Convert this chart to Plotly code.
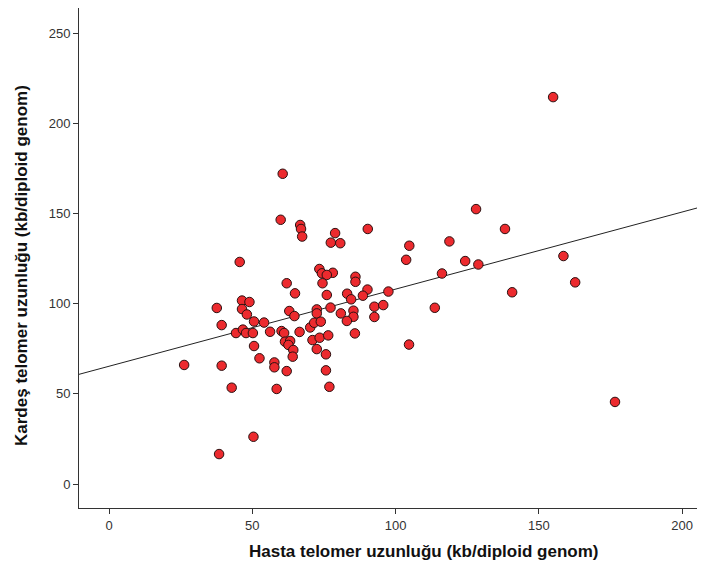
import numpy as np
import plotly.graph_objects as go

# Hasta (patient) telomere length, kb/diploid genome
hasta = [155.0, 158.6, 162.7, 176.6, 128.1, 138.2, 118.8, 104.8, 103.7, 124.3,
         128.9, 116.2, 140.7, 113.7, 104.7, 78.9, 77.4, 80.7, 90.3, 97.5,
         90.2, 88.6, 86.0, 86.0, 78.1, 83.1, 84.5, 77.3, 80.9, 85.3,
         85.3, 83.0, 92.6, 95.7, 92.6, 85.8, 66.7, 67.0, 67.4, 73.4,
         74.3, 76.0, 74.5, 76.0, 72.5, 72.5, 60.6, 59.9, 45.6, 62.0,
         64.9, 37.6, 46.4, 49.0, 46.4, 48.1, 62.9, 64.7, 50.6, 54.1,
         39.3, 44.3, 46.7, 47.8, 50.2, 56.2, 60.2, 61.1, 66.5, 70.2,
         71.6, 73.9, 71.0, 73.5, 76.5, 61.4, 63.2, 62.6, 64.3, 64.1,
         50.6, 72.5, 75.7, 52.5, 57.7, 57.7, 62.0, 75.7, 26.2, 39.3,
         42.8, 58.5, 76.9, 50.4, 38.4]

# Kardes (sibling) telomere length, kb/diploid genome
kardes = [214.5, 126.4, 111.8, 45.5, 152.4, 141.4, 134.5, 132.1, 124.3, 123.6,
          121.7, 116.7, 106.3, 97.7, 77.3, 139.1, 133.8, 133.5, 141.4, 106.7,
          107.8, 104.4, 114.9, 112.1, 117.1, 105.5, 102.4, 97.8, 94.6, 96.1,
          92.7, 90.4, 98.3, 99.2, 92.6, 83.5, 143.6, 141.4, 137.2, 119.2,
          116.8, 115.9, 111.3, 104.8, 96.8, 94.6, 172.0, 146.5, 123.1, 111.3,
          105.7, 97.6, 101.7, 100.9, 97.0, 94.0, 95.9, 93.1, 90.1, 89.5,
          88.1, 83.7, 85.6, 83.7, 83.7, 84.4, 84.8, 83.7, 84.3, 86.8,
          89.4, 90.0, 79.8, 81.1, 82.4, 78.9, 79.3, 77.1, 74.3, 70.6,
          76.5, 74.8, 71.9, 69.7, 67.4, 64.7, 62.6, 63.0, 66.0, 65.6,
          53.4, 52.7, 53.9, 26.2, 16.6]

x_ticks = [0, 50, 100, 150, 200]
y_ticks = [0, 50, 100, 150, 200, 250]
x_range = [-10.5, 214.3]
y_range = [-13.3, 263.9]

x_title = "Hasta telomer uzunluğu (kb/diploid genom)"
y_title = "Kardeş telomer uzunluğu (kb/diploid genom)"

slope, intercept = np.polyfit(hasta, kardes, 1)
line_x = np.array(x_range)
line_y = intercept + slope * line_x

fig = go.Figure()
fig.add_trace(go.Scatter(
    x=line_x, y=line_y, mode="lines",
    line=dict(color="#222222", width=1), hoverinfo="skip", showlegend=False))
fig.add_trace(go.Scatter(
    x=hasta, y=kardes, mode="markers",
    marker=dict(size=9.5, color="#ec2a2e", line=dict(color="#2a1010", width=1)),
    showlegend=False))

font_family = "Liberation Sans, Arial, sans-serif"
axis_common = dict(
    showline=True, linecolor="#333333", linewidth=1, mirror=True,
    ticks="outside", ticklen=5, tickcolor="#333333", tickwidth=1,
    showgrid=False, zeroline=False,
    tickfont=dict(family=font_family, size=13, color="#333333"),
)

fig.update_layout(
    width=720, height=566,
    margin=dict(l=71, r=5, t=0, b=66),
    paper_bgcolor="white", plot_bgcolor="white",
    xaxis=dict(range=x_range, tickvals=x_ticks, **axis_common),
    yaxis=dict(range=y_range, tickvals=y_ticks, **axis_common),
    annotations=[
        dict(text="<b>" + x_title + "</b>", xref="paper", yref="paper",
             x=0.535, y=-0.086, xanchor="center", yanchor="middle",
             showarrow=False,
             font=dict(family=font_family, size=17, color="#111111")),
        dict(text="<b>" + y_title + "</b>", xref="paper", yref="paper",
             x=-0.0901, y=0.486, xanchor="center", yanchor="middle",
             textangle=-90, showarrow=False,
             font=dict(family=font_family, size=17, color="#111111")),
    ],
)

fig.write_html("out.html")
